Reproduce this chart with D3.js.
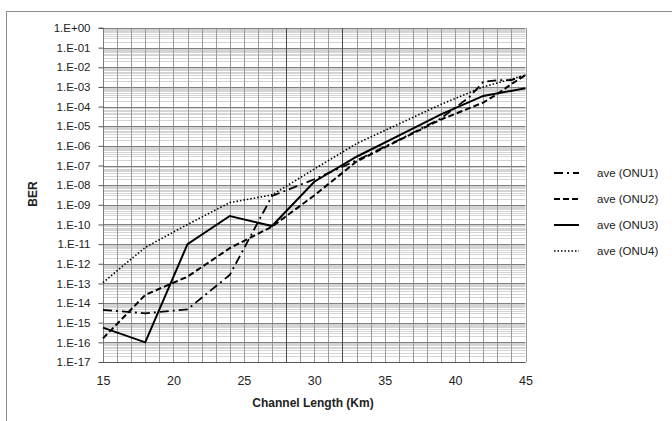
<!DOCTYPE html>
<html><head><meta charset="utf-8">
<script src="https://cdn.jsdelivr.net/npm/d3@7"></script>
<style>body{margin:0;background:#fff}svg{display:block}</style>
</head><body>
<script>
// Data (Channel length in km, BER)
const seriesNames = ["ave (ONU1)", "ave (ONU2)", "ave (ONU3)", "ave (ONU4)"];
const onu1Km  = [15, 18, 21, 24, 27, 30, 33, 36, 39, 41, 42, 43, 44, 45];
const onu1Ber = [4.5e-15, 3.0e-15, 4.8e-15, 2.7e-13, 2.8e-9, 2.0e-8, 1.8e-7, 2.0e-6, 2.5e-5, 3.0e-4, 1.8e-3, 2.2e-3, 2.2e-3, 4.0e-3];
const onu2Km  = [15, 18, 21, 24, 27, 30, 33, 36, 39, 42, 43, 44, 45];
const onu2Ber = [1.6e-16, 2.6e-14, 2.2e-13, 6.2e-12, 7.8e-11, 3.0e-9, 1.6e-7, 1.9e-6, 2.2e-5, 1.6e-4, 4.4e-4, 1.4e-3, 4.0e-3];
const onu3Km  = [15, 18, 21, 24, 27, 30, 33, 36, 39, 42, 45];
const onu3Ber = [5.6e-16, 1.0e-16, 1.0e-11, 2.7e-10, 8.3e-11, 1.5e-8, 2.8e-7, 3.3e-6, 4.0e-5, 3.5e-4, 8.5e-4];
const onu4Km  = [15, 18, 21, 24, 27, 30, 33, 36, 39, 42, 45];
const onu4Ber = [1.1e-13, 6.8e-12, 1.0e-10, 1.3e-9, 3.2e-9, 6.6e-8, 1.3e-6, 1.3e-5, 1.3e-4, 1.0e-3, 4.0e-3];
const xTicks = [15, 20, 25, 30, 35, 40, 45];
const yTickExp = d3.range(0, -18, -1);
const markerKm = [28, 32];

const W = 672, H = 421;
const svg = d3.select("body").append("svg").attr("width", W).attr("height", H);
const font = "'Liberation Sans', Arial, sans-serif";

// outer border
svg.append("rect").attr("x", 6.5).attr("y", 11.5).attr("width", 720).attr("height", 500)
  .attr("fill", "none").attr("stroke", "#8c8c8c").attr("stroke-width", 1);

const L = 103, R = 525.5, T = 28, B = 362;
const x = d3.scaleLinear().domain([15, 45]).range([L, R]);
const y = d3.scaleLog().domain([1e-17, 1]).range([B, T]);

const g = svg.append("g");
// minor horizontal grid
const minor = [];
for (let e = -17; e < 0; e++) for (let m = 2; m <= 9; m++) minor.push(m * Math.pow(10, e));
g.selectAll(".mh").data(minor).enter().append("line")
  .attr("x1", L).attr("x2", R).attr("y1", d => Math.round(y(d)) + 0.5).attr("y2", d => Math.round(y(d)) + 0.5)
  .attr("stroke", "#d4d4d4").attr("stroke-width", 1);
// vertical grid every km
g.selectAll(".vg").data(d3.range(16, 46)).enter().append("line")
  .attr("x1", d => Math.round(x(d)) + 0.5).attr("x2", d => Math.round(x(d)) + 0.5).attr("y1", T).attr("y2", B)
  .attr("stroke", "#9a9a9a").attr("stroke-width", 1);
// major horizontal grid
g.selectAll(".mj").data(yTickExp.map(e => Math.pow(10, e))).enter().append("line")
  .attr("x1", L).attr("x2", R).attr("y1", d => Math.round(y(d)) + 0.5).attr("y2", d => Math.round(y(d)) + 0.5)
  .attr("stroke", "#808080").attr("stroke-width", 1);
// marker vertical lines
g.selectAll(".mk").data(markerKm).enter().append("line")
  .attr("x1", d => Math.round(x(d)) + 0.5).attr("x2", d => Math.round(x(d)) + 0.5).attr("y1", T).attr("y2", B)
  .attr("stroke", "#4a4a4a").attr("stroke-width", 1);

// axes
const yAxis = d3.axisLeft(y).tickValues(yTickExp.map(e => Math.pow(10, e)))
  .tickFormat(d => { const e = Math.round(Math.log10(d)); return e === 0 ? "1.E+00" : "1.E-" + String(-e).padStart(2, "0"); })
  .tickSize(5).tickPadding(8);
const ya = svg.append("g").attr("transform", `translate(${L + 0.5},0)`).call(yAxis);
ya.select(".domain").attr("stroke", "#7a7a7a").attr("d", `M-5,${T}H0V${B}`);
ya.selectAll(".tick line").attr("stroke", "#555");
ya.selectAll("text").attr("font-family", font).attr("font-size", 11.5).attr("fill", "#222");

const xAxis = d3.axisBottom(x).tickValues(xTicks).tickSize(0).tickPadding(14);
const xa = svg.append("g").attr("transform", `translate(0,${B + 0.5})`).call(xAxis);
xa.select(".domain").attr("stroke", "#555").attr("d", `M${L},0H${R}`);
xa.selectAll("text").attr("font-family", font).attr("font-size", 12.5).attr("fill", "#222");

svg.append("text").attr("x", 313).attr("y", 407).attr("text-anchor", "middle")
  .attr("font-family", font).attr("font-size", 12).attr("font-weight", "bold").attr("fill", "#222")
  .text("Channel Length (Km)");
svg.append("text").attr("transform", "translate(37,194) rotate(-90)").attr("text-anchor", "middle")
  .attr("font-family", font).attr("font-size", 12).attr("font-weight", "bold").attr("fill", "#222")
  .text("BER");

// series
const styles = [
  {dash: "9,4,2,4", w: 1.8},
  {dash: "6,3", w: 2},
  {dash: null, w: 2},
  {dash: "1.5,2", w: 1.6}
];
const series = [
  {km: onu1Km, ber: onu1Ber}, {km: onu2Km, ber: onu2Ber},
  {km: onu3Km, ber: onu3Ber}, {km: onu4Km, ber: onu4Ber}
];
const line = d3.line().x(d => x(d[0])).y(d => y(d[1]));
series.forEach((s, i) => {
  const pts = s.km.map((k, j) => [k, s.ber[j]]);
  svg.append("path").datum(pts).attr("d", line).attr("fill", "none")
    .attr("stroke", "#000").attr("stroke-width", styles[i].w)
    .attr("stroke-dasharray", styles[i].dash);
});

// legend
const legY = [173, 199, 225, 251];
seriesNames.forEach((n, i) => {
  svg.append("line").attr("x1", 554).attr("x2", 579).attr("y1", legY[i]).attr("y2", legY[i])
    .attr("stroke", "#000").attr("stroke-width", styles[i].w).attr("stroke-dasharray", styles[i].dash);
  svg.append("text").attr("x", 597).attr("y", legY[i] + 4).attr("font-family", font)
    .attr("font-size", 11.5).attr("fill", "#222").text(n);
});
</script>
</body></html>
